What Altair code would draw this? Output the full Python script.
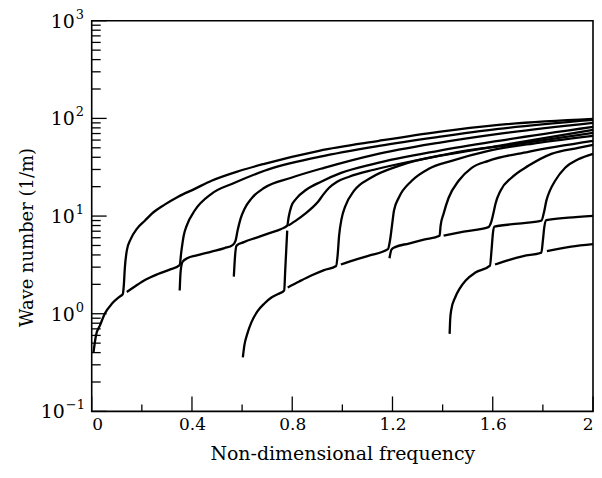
import altair as alt
import pandas as pd

# ---- curve segments (non-dimensional frequency, wave number 1/m) ----
A_x = [0.007, 0.017, 0.033, 0.053, 0.081, 0.112, 0.124, 0.128, 0.132, 0.140, 0.156, 0.180,
       0.212, 0.240, 0.291, 0.343, 0.411, 0.478, 0.591, 0.689, 0.907, 1.146, 1.384, 1.623, 2.0]
A_y = [0.40, 0.60, 0.76, 1.01, 1.27, 1.50, 1.59, 1.94, 2.90, 4.43, 5.85, 7.40,
       8.97, 10.6, 13.1, 15.7, 19.0, 23.0, 29.1, 34.3, 46.6, 58.9, 72.8, 85.8, 98.9]

B_x = [0.140, 0.172, 0.216, 0.264, 0.311, 0.351, 0.357, 0.367, 0.379, 0.411, 0.478, 0.570,
       0.689, 0.907, 1.146, 1.384, 1.623, 2.0]
B_y = [1.67, 1.90, 2.24, 2.55, 2.83, 3.15, 4.23, 6.30, 7.98, 11.4, 16.9, 21.9,
       29.1, 40.4, 52.4, 64.7, 78.1, 96.6]

C_x = [0.351, 0.355, 0.363, 0.383, 0.415, 0.478, 0.530, 0.562, 0.574, 0.582, 0.594, 0.610,
       0.637, 0.689, 0.796, 0.927, 1.126, 1.384, 1.623, 2.0]
C_y = [1.73, 2.77, 3.42, 3.72, 3.94, 4.33, 4.70, 5.04, 5.61, 7.10, 9.42, 11.9,
       15.1, 19.5, 24.7, 31.2, 42.4, 56.2, 69.4, 90.0]

D_x = [0.567, 0.572, 0.578, 0.607, 0.661, 0.709, 0.756, 0.780, 0.786, 0.796, 0.816, 0.856,
       0.915, 0.995, 1.126, 1.384, 1.623, 2.0]
D_y = [2.40, 3.94, 4.98, 5.41, 6.06, 6.69, 7.38, 7.98, 9.86, 12.5, 15.1, 18.6,
       22.5, 27.7, 34.3, 46.6, 58.9, 81.8]

E_x = [0.784, 0.820, 0.852, 0.880, 0.903, 0.923, 0.947, 0.979, 1.027, 1.126, 1.305, 1.623, 2.0]
E_y = [7.98, 9.19, 10.6, 12.2, 14.0, 16.5, 19.5, 22.5, 25.3, 29.8, 37.7, 52.4, 76.4]

F_x = [0.603, 0.609, 0.621, 0.637, 0.661, 0.689, 0.717, 0.744, 0.768, 0.772, 0.776, 0.780]
F_y = [0.358, 0.474, 0.626, 0.815, 1.056, 1.274, 1.467, 1.593, 1.73, 2.77, 4.43, 7.10]

G_x = [0.782, 0.828, 0.876, 0.927, 0.975, 0.981, 0.987, 0.997, 1.011, 1.047, 1.114, 1.225,
       1.424, 1.702, 2.0]
G_y = [1.86, 2.14, 2.46, 2.80, 3.08, 3.94, 6.30, 9.42, 12.5, 18.2, 24.7, 32.7,
       43.4, 54.9, 71.1]

H_x = [0.994, 1.047, 1.106, 1.182, 1.190, 1.198, 1.206, 1.225, 1.277, 1.345, 1.436, 1.583,
       1.782, 2.0]
H_y = [3.19, 3.54, 3.94, 4.59, 5.61, 7.98, 11.4, 15.4, 23.0, 30.5, 36.8, 46.6,
       56.2, 66.3]

I_x = [1.188, 1.196, 1.210, 1.265, 1.325, 1.388, 1.392, 1.404, 1.424, 1.464, 1.516, 1.583,
       1.742, 2.0]
I_y = [3.70, 4.54, 4.81, 5.23, 5.74, 6.30, 7.98, 10.6, 15.4, 23.0, 31.2, 36.8,
       45.5, 58.9]

J_x = [1.404, 1.484, 1.583, 1.593, 1.603, 1.611, 1.631, 1.675, 1.742, 1.834, 1.941, 2.0]
J_y = [6.30, 6.93, 7.70, 8.56, 10.8, 13.4, 18.2, 24.7, 32.7, 43.4, 50.0, 53.6]

K_x = [1.428, 1.430, 1.434, 1.450, 1.468, 1.492, 1.531, 1.589, 1.595, 1.601, 1.607, 1.702,
       1.794, 1.804, 1.814, 1.828, 1.849, 1.889, 1.941, 2.0]
K_y = [0.622, 0.854, 1.08, 1.467, 1.81, 2.19, 2.64, 3.11, 4.43, 6.77, 7.80, 8.36,
       8.97, 10.8, 14.4, 18.2, 23.0, 31.2, 38.1, 43.4]

L_x = [1.609, 1.663, 1.722, 1.794, 1.800, 1.806, 1.814, 1.901, 2.0]
L_y = [3.19, 3.54, 3.89, 4.23, 5.61, 7.80, 9.08, 9.63, 10.05]

M_x = [1.816, 1.913, 2.0]
M_y = [4.38, 4.87, 5.16]

segments = {"A": (A_x, A_y), "B": (B_x, B_y), "C": (C_x, C_y), "D": (D_x, D_y),
            "E": (E_x, E_y), "F": (F_x, F_y), "G": (G_x, G_y), "H": (H_x, H_y),
            "I": (I_x, I_y), "J": (J_x, J_y), "K": (K_x, K_y), "L": (L_x, L_y),
            "M": (M_x, M_y)}

rows = []
for name, (xs, ys) in segments.items():
    for i, (xv, yv) in enumerate(zip(xs, ys)):
        rows.append({"seg": name, "x": xv, "y": yv, "i": i})
df = pd.DataFrame(rows)

# ---- axis ticks and labels ----
x_major = [0, 0.4, 0.8, 1.2, 1.6, 2]
x_minor = [0.2, 0.6, 1.0, 1.4, 1.8]
y_major = [0.1, 1, 10, 100, 1000]
y_exponents = ["−1", "0", "1", "2", "3"]
y_minor = [m * 10.0 ** e for e in range(-1, 3) for m in range(2, 10)]

W, H = 503, 392
FONT = "DejaVu Serif"

xscale = alt.Scale(domain=[0, 2], nice=False, zero=False)
yscale = alt.Scale(type="log", domain=[0.1, 1000], nice=False)

x_axis = alt.Axis(values=x_major, format="~g", ticks=False, domain=False, grid=False,
                  title="Non-dimensional frequency", labelFontSize=17, labelPadding=5,
                  titleFontSize=19, titlePadding=12)
y_axis = alt.Axis(values=y_major, labels=False, ticks=False, domain=False,
                  grid=False, title="Wave number (1/m)", titleFontSize=18,
                  titleX=-64, titleY=217,
                  titleAngle=270, titleAlign="center", titleBaseline="middle")

lines = alt.Chart(df).mark_line(color="black", strokeWidth=2.3, interpolate="monotone").encode(
    x=alt.X("x:Q", scale=xscale, axis=x_axis),
    y=alt.Y("y:Q", scale=yscale, axis=y_axis),
    detail="seg:N",
    order="i:Q",
)

def xticks(vals, length):
    return alt.Chart(pd.DataFrame({"v": vals})).mark_rule(color="black", strokeWidth=1.3).encode(
        x=alt.X("v:Q", scale=xscale, axis=x_axis),
        y=alt.value(H), y2=alt.value(H - length))

def yticks(vals, length):
    return alt.Chart(pd.DataFrame({"v": vals})).mark_rule(color="black", strokeWidth=1.3).encode(
        y=alt.Y("v:Q", scale=yscale, axis=y_axis),
        x=alt.value(0), x2=alt.value(length))

ylab = pd.DataFrame({"v": y_major, "base": ["10"] * len(y_major), "exp": y_exponents})
ylab_pos = ylab[ylab["v"] >= 1]
ylab_neg = ylab[ylab["v"] < 1]

def ylabels(data, xbase):
    base = alt.Chart(data).mark_text(font=FONT, fontSize=19, align="right", baseline="middle",
                                     dy=1, color="black").encode(
        y=alt.Y("v:Q", scale=yscale, axis=y_axis), x=alt.value(xbase), text="base:N")
    exp = alt.Chart(data).mark_text(font=FONT, fontSize=13, align="left", baseline="middle",
                                    dy=-6, color="black").encode(
        y=alt.Y("v:Q", scale=yscale, axis=y_axis), x=alt.value(xbase + 1), text="exp:N")
    return base + exp

chart = alt.layer(
    lines, xticks(x_major, 15), xticks(x_minor, 7), yticks(y_major, 15), yticks(y_minor, 9),
    ylabels(ylab_pos, -17), ylabels(ylab_neg, -27)
).properties(
    width=W, height=H,
    autosize=alt.AutoSizeParams(type="none"),
    padding={"left": 84, "top": 12, "right": 1, "bottom": 55},
).configure_view(
    stroke="black", strokeWidth=1.6
).configure_axis(
    labelFont=FONT, titleFont=FONT, labelColor="black", titleColor="black",
    titleFontWeight="normal"
)

chart.save("out.html", embed_options={"renderer": "svg", "actions": False})
